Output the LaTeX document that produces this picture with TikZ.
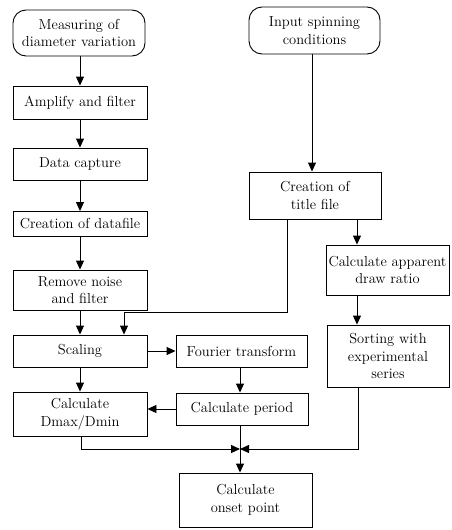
\documentclass[tikz,border=0pt]{standalone}
\usepackage{fontspec}
\usetikzlibrary{arrows.meta}
\begin{document}
\begin{tikzpicture}[x=1pt,y=-1pt,
  box/.style={draw,line width=0.9pt,inner sep=0pt,align=center,font=\fontsize{14.5}{17.5}\selectfont},
  rbox/.style={box,rounded corners=13pt},
  arr/.style={line width=0.9pt,-{Triangle[length=9pt,width=8pt]}},
  ln/.style={line width=0.9pt}]
\useasboundingbox (0,0) rectangle (452,530);
% left column
\node[rbox,minimum width=132pt,minimum height=46pt] (meas) at (79,33) {Measuring of\\diameter variation};
\node[box,minimum width=134pt,minimum height=33pt] (amp) at (80,102.5) {Amplify and filter};
\node[box,minimum width=134pt,minimum height=32pt] (cap) at (80,164) {Data capture};
\node[box,minimum width=134pt,minimum height=25pt] (dfile) at (80,224) {Creation of datafile};
\node[box,minimum width=134pt,minimum height=40pt] (rem) at (80,290) {Remove noise\\and filter};
\node[box,minimum width=134pt,minimum height=32pt] (scal) at (80,351) {Scaling};
\node[box,minimum width=134pt,minimum height=44pt] (dmax) at (80,414) {Calculate\\Dmax/Dmin};
% middle
\node[box,minimum width=131pt,minimum height=32pt] (four) at (241.5,351) {Fourier transform};
\node[box,minimum width=132pt,minimum height=32pt] (per) at (242,409) {Calculate period};
\node[box,minimum width=133pt,minimum height=54pt] (onset) at (245.5,500) {Calculate\\onset point};
% right
\node[rbox,minimum width=131pt,minimum height=47pt] (inp) at (314.5,30.5) {Input spinning\\conditions};
\node[box,minimum width=132pt,minimum height=47pt] (title) at (315,195.5) {Creation of\\title file};
\node[box,minimum width=123pt,minimum height=50pt] (app) at (387.5,270) {Calculate apparent\\draw ratio};
\node[box,minimum width=122pt,minimum height=62pt] (sort) at (388,356) {Sorting with\\experimental\\series};
% helper coordinates
\coordinate (xl) at (80,0);
\coordinate (xs) at (124,0);
\coordinate (xt) at (287,312);
\coordinate (xa) at (357,0);
\coordinate (xm) at (240,0);
\coordinate (m) at (240,449);
% connectors
\draw[arr] (meas.south -| xl) -- (amp.north -| xl);
\draw[arr] (amp.south -| xl) -- (cap.north -| xl);
\draw[arr] (cap.south -| xl) -- (dfile.north -| xl);
\draw[arr] (dfile.south -| xl) -- (rem.north -| xl);
\draw[arr] (rem.south -| xl) -- (scal.north -| xl);
\draw[arr] (scal.south -| xl) -- (dmax.north -| xl);
\draw[arr] (inp.south -| 312,0) -- (title.north -| 312,0);
\draw[arr] (title.south -| xt) -- (xt) -| (scal.north -| xs);
\draw[arr] (title.south -| xa) -- (app.north -| xa);
\draw[arr] (app.south -| xa) -- (sort.north -| xa);
\draw[arr] (scal.east) -- (four.west);
\draw[arr] (four.south -| xm) -- (per.north -| xm);
\draw[arr] (per.west) -- (per.west -| dmax.east);
\draw[arr] (dmax.south -| 81,0) |- (m);
\draw[arr] (sort.south -| 358,0) |- (m);
\draw[arr] (per.south -| xm) -- (onset.north -| xm);
\end{tikzpicture}
\end{document}
